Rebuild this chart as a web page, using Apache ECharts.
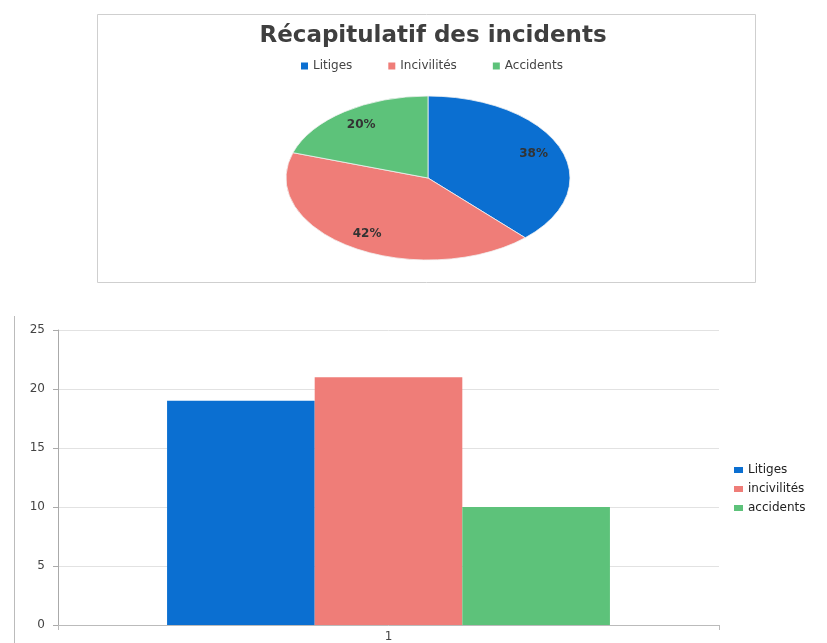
<!DOCTYPE html>
<html>
<head>
<meta charset="utf-8">
<script src="https://cdn.jsdelivr.net/npm/echarts@6/dist/echarts.min.js"></script>
<style>
  html, body { margin: 0; padding: 0; background: #fff; }
  #chart { width: 827px; height: 643px; }
</style>
</head>
<body>
<div id="chart"></div>
<script>
// données
const pieNames = ["Litiges", "Incivilités", "Accidents"];
const barNames = ["Litiges", "incivilités", "accidents"];
const values = [19, 21, 10];
const categories = ["1"];
const colors = ["#0b6fd1", "#ef7d78", "#5dc27a"];

const FONT = '"DejaVu Sans", "Open Sans", sans-serif';

// ellipse du camembert
const PIE_CX = 428;
const PIE_CY = 178;
const PIE_RX = 142;
const PIE_RY = 82;

const total = values.reduce((a, b) => a + b, 0);

// dessine une part en ellipse
const renderSlice = (i) => (params, api) => {
  let before = 0;
  for (let k = 0; k < i; k++) before += values[k];
  const v = api.value(0);
  const a0 = -Math.PI / 2 + (before / total) * Math.PI * 2;
  const a1 = a0 + (v / total) * Math.PI * 2;
  const mid = (a0 + a1) / 2;
  return {
    type: "group",
    children: [
      {
        type: "group",
        x: PIE_CX,
        y: PIE_CY,
        scaleY: PIE_RY / PIE_RX,
        children: [
          {
            type: "sector",
            shape: { cx: 0, cy: 0, r0: 0, r: PIE_RX, startAngle: a0, endAngle: a1, clockwise: true },
            style: { fill: colors[i], stroke: "#f2f2f2", lineWidth: 1, strokeNoScale: true },
          },
        ],
      },
      {
        type: "text",
        x: PIE_CX + Math.cos(mid) * PIE_RX * 0.8,
        y: PIE_CY + Math.sin(mid) * PIE_RY * 0.8,
        style: {
          text: Math.round((v / total) * 100) + "%",
          align: "center",
          verticalAlign: "middle",
          font: "bold 12px " + FONT,
          fill: "#333",
        },
      },
    ],
  };
};

const pieSeries = pieNames.map((name, i) => ({
  name: name,
  type: "custom",
  coordinateSystem: "none",
  itemStyle: { color: colors[i] },
  data: [[values[i]]],
  renderItem: renderSlice(i),
}));

const barSeries = barNames.map((name, i) => ({
  name: name,
  type: "bar",
  data: [values[i]],
  itemStyle: { color: colors[i] },
  barGap: 0,
  barCategoryGap: "33%",
}));

const chart = echarts.init(document.getElementById("chart"));
chart.setOption({
  animation: false,
  textStyle: { fontFamily: FONT },
  title: {
    text: "Récapitulatif des incidents",
    left: 428,
    textAlign: "center",
    top: 20,
    textStyle: { fontFamily: FONT, fontSize: 23, fontWeight: "bold", color: "#3f3f3f" },
  },
  legend: [
    {
      data: pieNames,
      top: 55,
      left: 296,
      icon: "rect",
      itemWidth: 7,
      itemHeight: 7,
      itemGap: 36,
      textStyle: { fontFamily: FONT, fontSize: 12, color: "#444" },
    },
    {
      data: barNames,
      orient: "vertical",
      left: 729,
      top: 459,
      icon: "rect",
      itemWidth: 9,
      itemHeight: 6,
      itemGap: 7,
      textStyle: { fontFamily: FONT, fontSize: 12, color: "#222" },
    },
  ],
  graphic: [
    {
      type: "rect",
      silent: true,
      shape: { x: 97.5, y: 14.5, width: 658, height: 268 },
      style: { fill: "none", stroke: "#cfcfcf", lineWidth: 1 },
    },
    {
      type: "line",
      silent: true,
      shape: { x1: 14.5, y1: 316, x2: 14.5, y2: 643 },
      style: { stroke: "#bbb", lineWidth: 1 },
    },
  ],
  grid: { left: 58, right: 108, top: 330, bottom: 16 },
  xAxis: {
    type: "category",
    data: categories,
    axisLine: { lineStyle: { color: "#bbb" } },
    axisTick: { show: true, length: 5, lineStyle: { color: "#bbb" } },
    axisLabel: { color: "#444", fontFamily: FONT, fontSize: 12, margin: 6 },
  },
  yAxis: {
    type: "value",
    min: 0,
    max: 25,
    interval: 5,
    axisLine: { show: true, lineStyle: { color: "#aaa" } },
    axisTick: { show: true, length: 5, lineStyle: { color: "#aaa" } },
    axisLabel: { color: "#444", fontFamily: FONT, fontSize: 12, margin: 13 },
    splitLine: { lineStyle: { color: "#e2e2e2" } },
  },
  series: [...pieSeries, ...barSeries],
});
</script>
</body>
</html>
